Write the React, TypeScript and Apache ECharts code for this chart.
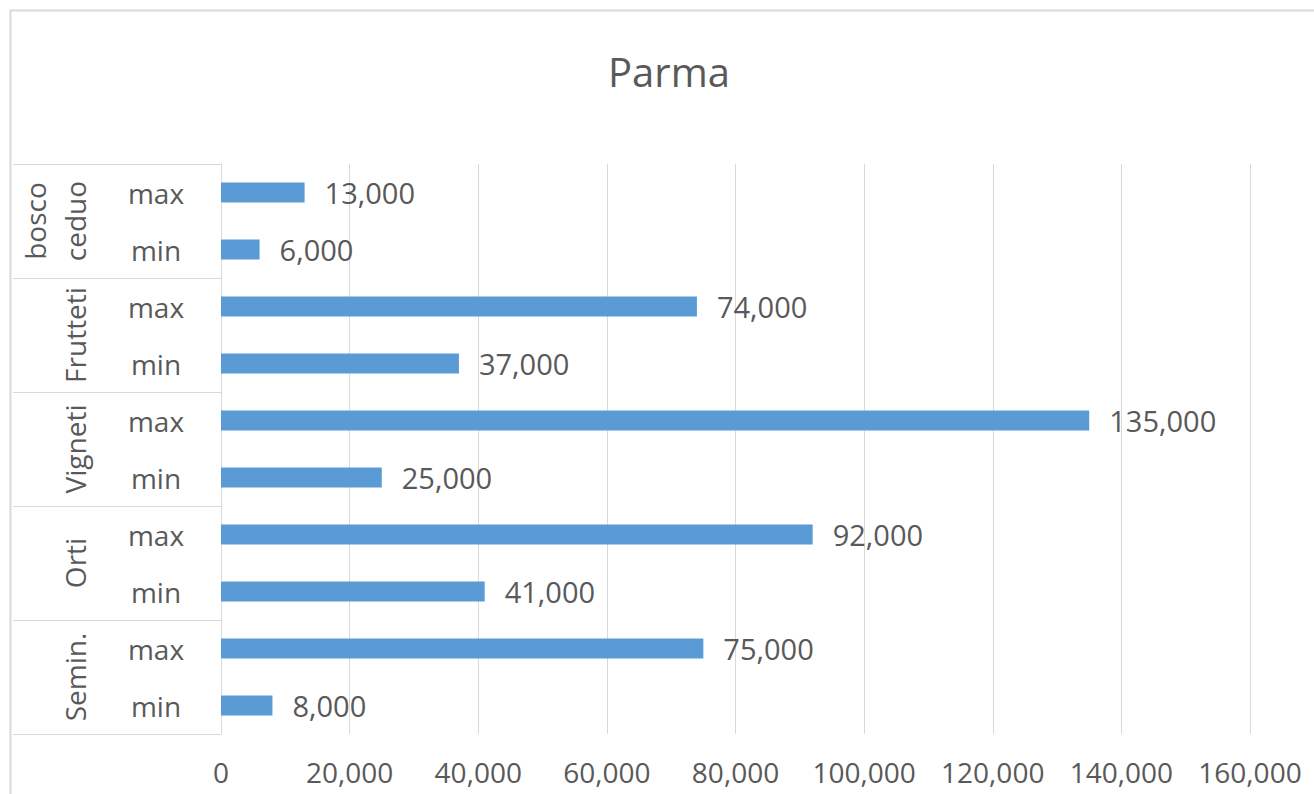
import React, { useEffect, useRef } from "react";
import * as echarts from "echarts";

const titleText = "Parma";
const groups = ["bosco\nceduo", "Frutteti", "Vigneti", "Orti", "Semin."];
const rowLabels = ["max", "min", "max", "min", "max", "min", "max", "min", "max", "min"];
const values = [13000, 6000, 74000, 37000, 135000, 25000, 92000, 41000, 75000, 8000];
const xMin = 0;
const xMax = 160000;
const xStep = 20000;

const FONT = "'Open Sans', 'Noto Sans', sans-serif";
const TEXT = "#595959";
const GRID = "#d9d9d9";
const BAR = "#5B9BD5";

const fmt = (v: number) => v.toLocaleString("en-US");

export default function App() {
  const ref = useRef<HTMLDivElement>(null);
  useEffect(() => {
    if (!ref.current) return;
    const chart = echarts.init(ref.current, undefined, { renderer: "svg" });
    chart.setOption({
      animation: false,
      backgroundColor: "#ffffff",
      textStyle: { fontFamily: FONT },
      title: {
        text: titleText,
        left: 603,
        top: 46,
        textStyle: { fontFamily: FONT, fontSize: 40, fontWeight: "normal", color: TEXT },
      },
      graphic: [
        {
          type: "rect",
          shape: { x: 10.5, y: 10.5, width: 1400, height: 900 },
          style: { fill: "none", stroke: GRID, lineWidth: 2 },
          silent: true,
        },
      ],
      grid: { left: 221, right: 64, top: 164, bottom: 60, containLabel: false },
      xAxis: {
        type: "value",
        min: xMin,
        max: xMax,
        interval: xStep,
        axisLine: { show: false },
        axisTick: { show: false },
        splitLine: { show: true, lineStyle: { color: GRID, width: 1 } },
        axisLabel: {
          formatter: (v: number) => fmt(v),
          fontSize: 28,
          color: TEXT,
          fontFamily: FONT,
          margin: 24,
        },
      },
      yAxis: [
        {
          type: "category",
          position: "left",
          inverse: true,
          data: rowLabels,
          axisLine: { show: true, lineStyle: { color: GRID, width: 1 } },
          axisTick: { show: false },
          axisLabel: {
            interval: 0,
            fontSize: 28,
            color: TEXT,
            fontFamily: FONT,
            align: "center",
            margin: 65,
          },
        },
        {
          type: "category",
          position: "left",
          inverse: true,
          data: groups,
          axisLine: { show: true, lineStyle: { color: GRID, width: 1 } },
          axisTick: {
            show: true,
            interval: 0,
            length: 208,
            lineStyle: { color: GRID, width: 1 },
          },
          axisLabel: {
            interval: 0,
            hideOverlap: false,
            rotate: 90,
            fontSize: 28,
            color: TEXT,
            fontFamily: FONT,
            margin: 126,
            lineHeight: 40,
          },
        },
      ],
      series: [
        {
          type: "bar",
          yAxisIndex: 0,
          data: values,
          barWidth: 20,
          itemStyle: { color: BAR },
          label: {
            show: true,
            position: "right",
            distance: 20,
            formatter: (p: any) => fmt(p.value),
            fontSize: 29,
            color: TEXT,
            fontFamily: FONT,
          },
        },
      ],
    });
    return () => chart.dispose();
  }, []);
  return (
    <div
      ref={ref}
      style={{ position: "fixed", left: 0, top: 0, width: 1314, height: 794 }}
    />
  );
}
